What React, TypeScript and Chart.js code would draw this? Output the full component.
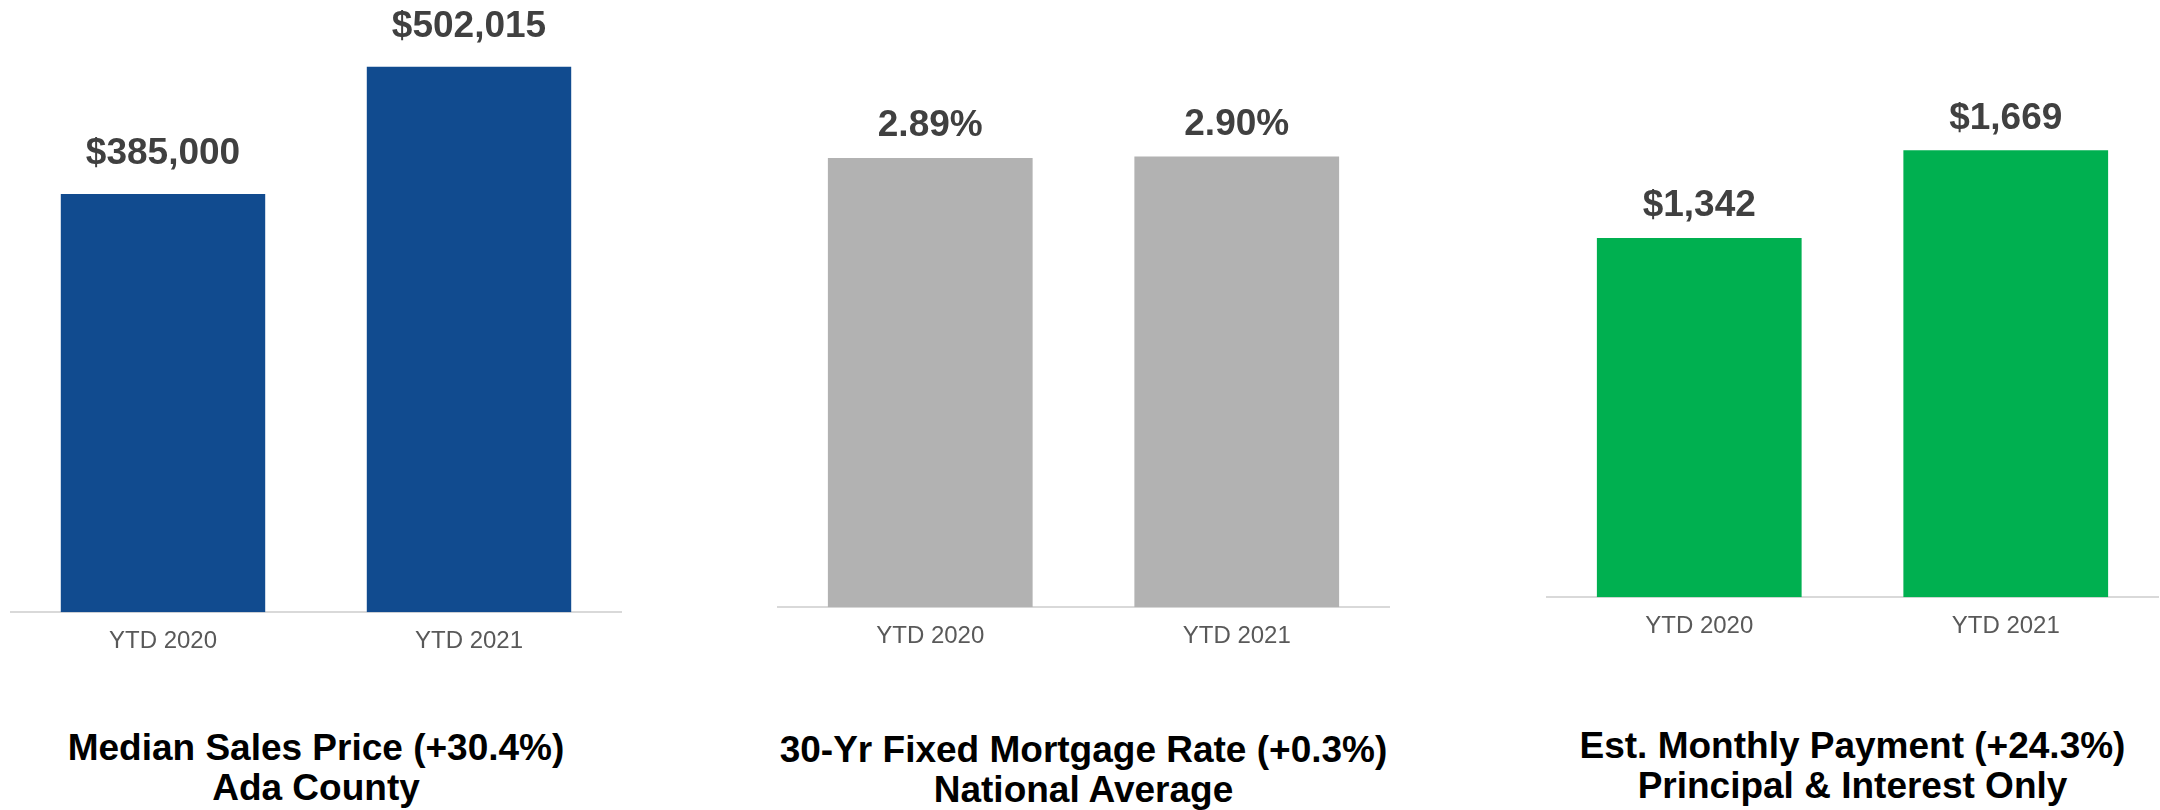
import React, { useEffect, useRef } from "react";
import { Chart, registerables } from "chart.js";

Chart.register(...registerables);

// ---- Data ----
const categories = ["YTD 2020", "YTD 2021"];
const medianSalesPrice = [385000, 502015];
const mortgageRate = [2.89, 2.9];
const monthlyPayment = [1342, 1669];

const medianTitle = ["Median Sales Price (+30.4%)", "Ada County"];
const rateTitle = ["30-Yr Fixed Mortgage Rate (+0.3%)", "National Average"];
const paymentTitle = ["Est. Monthly Payment (+24.3%)", "Principal & Interest Only"];

const FONT = '"Liberation Sans", Arial, Helvetica, sans-serif';

type PanelProps = {
  values: number[];
  color: string;
  yMax: number;
  format: (v: number) => string;
  labelOffset: number;
  left: number;
  width: number;
  height: number;
  title: string[];
  titleTop: number;
};

function Panel(props: PanelProps) {
  const ref = useRef<HTMLCanvasElement | null>(null);

  useEffect(() => {
    if (!ref.current) return;
    const valueLabels = {
      id: "valueLabels",
      afterDatasetsDraw(chart: any) {
        const { ctx } = chart;
        const meta = chart.getDatasetMeta(0);
        const data = chart.data.datasets[0].data as number[];
        ctx.save();
        ctx.font = `bold 37px ${FONT}`;
        ctx.fillStyle = "#404040";
        ctx.textAlign = "center";
        ctx.textBaseline = "middle";
        meta.data.forEach((bar: any, i: number) => {
          ctx.fillText(props.format(data[i]), bar.x, bar.y - props.labelOffset);
        });
        ctx.restore();
      },
    };

    const chart = new Chart(ref.current, {
      type: "bar",
      data: {
        labels: categories,
        datasets: [
          {
            data: props.values,
            backgroundColor: props.color,
            borderWidth: 0,
            barPercentage: 0.668,
            categoryPercentage: 1.0,
          },
        ],
      },
      options: {
        responsive: false,
        animation: false,
        devicePixelRatio: 1,
        layout: { padding: 0 },
        plugins: {
          legend: { display: false },
          tooltip: { enabled: false },
        },
        scales: {
          x: {
            grid: { display: false, drawTicks: false },
            border: { display: true, color: "#d9d9d9", width: 2 },
            ticks: {
              color: "#595959",
              padding: 15,
              font: { family: FONT, size: 24 },
            },
          },
          y: {
            display: false,
            min: 0,
            max: props.yMax,
          },
        },
      },
      plugins: [valueLabels],
    });
    return () => chart.destroy();
  }, []);

  return (
    <>
      <canvas
        ref={ref}
        width={props.width}
        height={props.height}
        style={{
          position: "absolute",
          left: props.left,
          top: 0,
          width: props.width,
          height: props.height,
        }}
      />
      <div
        style={{
          position: "absolute",
          left: props.left,
          top: props.titleTop,
          width: props.width,
          textAlign: "center",
          fontFamily: FONT,
          fontWeight: "bold",
          fontSize: 37,
          lineHeight: "40px",
          color: "#000000",
          whiteSpace: "nowrap",
        }}
      >
        {props.title.map((t, i) => (
          <div key={i}>{t}</div>
        ))}
      </div>
    </>
  );
}

const fmtDollar = (v: number) => "$" + v.toLocaleString("en-US");
const fmtPct = (v: number) => v.toFixed(2) + "%";

export default function App() {
  return (
    <div
      style={{
        position: "absolute",
        left: 0,
        top: 0,
        width: 2160,
        height: 810,
        background: "#ffffff",
        overflow: "hidden",
      }}
    >
      <Panel
        values={medianSalesPrice}
        color="#114B8F"
        yMax={563560}
        format={fmtDollar}
        labelOffset={40}
        left={10}
        width={612}
        height={671}
        title={medianTitle}
        titleTop={728}
      />
      <Panel
        values={mortgageRate}
        color="#B2B2B2"
        yMax={3.906}
        format={fmtPct}
        labelOffset={32}
        left={777}
        width={613}
        height={666}
        title={rateTitle}
        titleTop={730}
      />
      <Panel
        values={monthlyPayment}
        color="#00B050"
        yMax={2230.6}
        format={fmtDollar}
        labelOffset={32}
        left={1546}
        width={613}
        height={656}
        title={paymentTitle}
        titleTop={726}
      />
    </div>
  );
}
